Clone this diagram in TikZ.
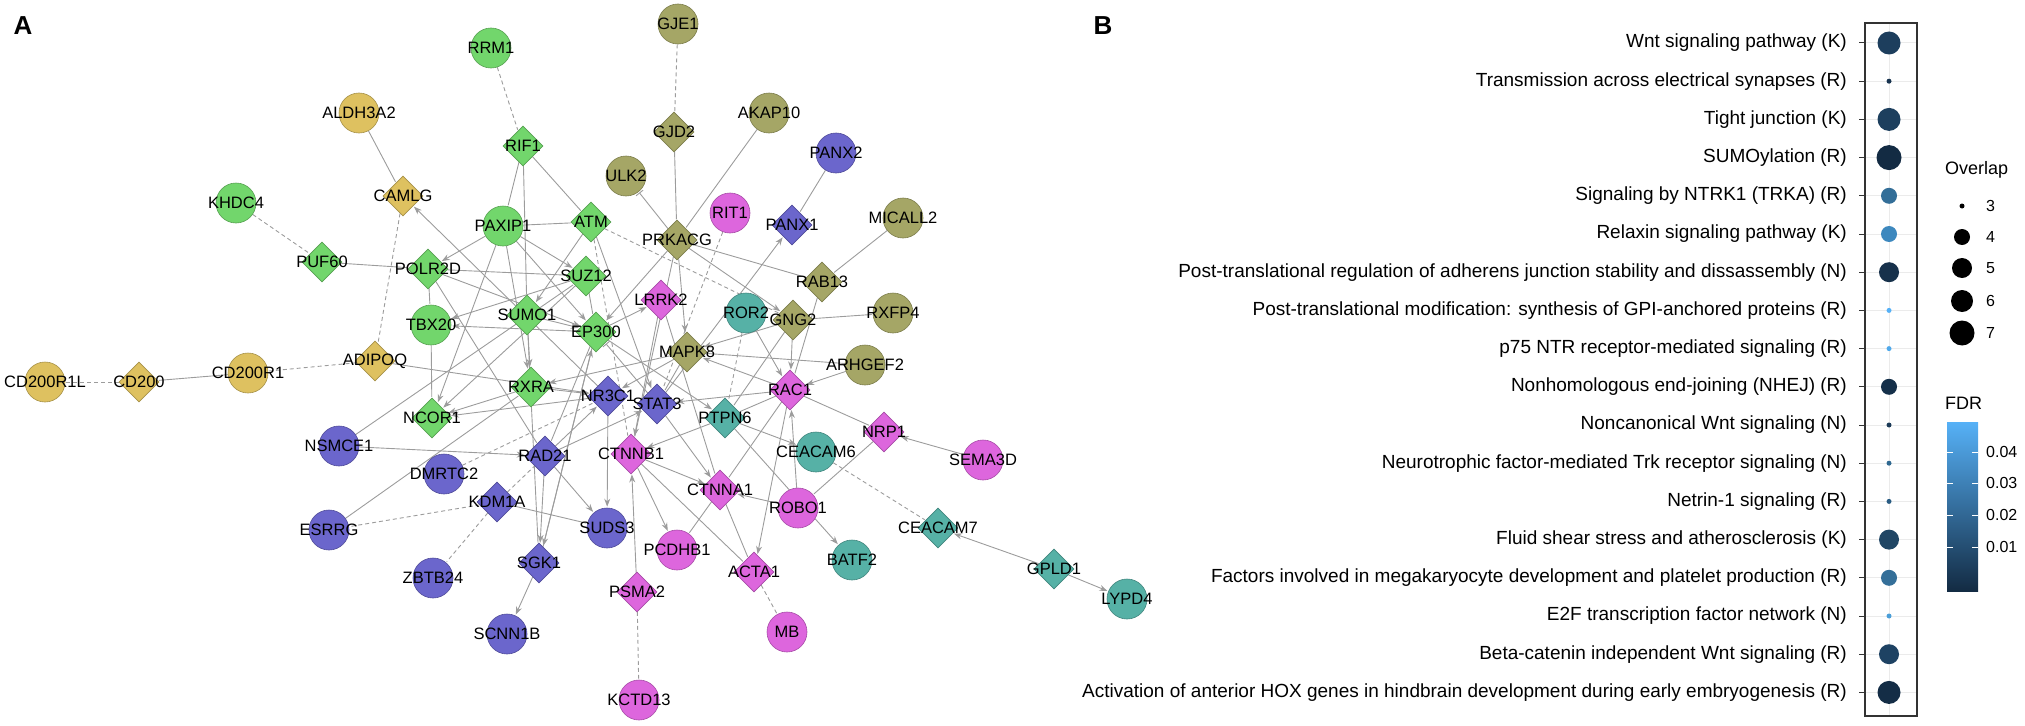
\documentclass[tikz,border=0pt]{standalone}
\usepackage{fontspec}
\setmainfont{Liberation Sans}
\usetikzlibrary{shapes.geometric,arrows.meta,backgrounds}
\definecolor{cg}{HTML}{72D66C}\definecolor{cy}{HTML}{DEC160}\definecolor{co}{HTML}{A5A666}
\definecolor{cp}{HTML}{6B66CC}\definecolor{cm}{HTML}{DD66DD}\definecolor{ct}{HTML}{56B1A6}
\definecolor{eg}{HTML}{9C9C9C}
\tikzset{
 base/.style={draw=#1!75!black, fill=#1, line width=0.6pt, inner sep=0pt},
 C/.style={base=#1, circle, minimum size=40pt},
 D/.style={base=#1, diamond, minimum width=40pt, minimum height=40pt},
 lbl/.style={font=\fontsize{16.5}{17}\selectfont, inner sep=0pt},
 e/.style={draw=eg, line width=0.9pt, shorten >=1pt},
 a/.style={e, -{Stealth[length=8pt,width=6pt]}},
 d/.style={e, dash pattern=on 4pt off 3pt},
 t/.style={e, -{Bar[width=9pt]}},
 rowtxt/.style={font=\fontsize{19}{20}\selectfont, anchor=east, inner sep=0pt},
 ttl/.style={font=\fontsize{26}{28}\selectfont\bfseries, inner sep=0pt}
}
\newcommand{\nd}[4]{\node[#1,label={[lbl]center:#2}] (#2) at (#3,#4) {};}
\begin{document}
\begin{tikzpicture}[x=1pt,y=-1pt]
\useasboundingbox (0,0) rectangle (2025,725);
\node[ttl] at (23,26) {A};
\node[ttl] at (1103,26) {B};
% nodes
\nd{C=cy}{ALDH3A2}{359}{113}
\nd{D=cy}{CAMLG}{403}{196}
\nd{D=cy}{ADIPOQ}{375}{361}
\nd{C=cy}{CD200R1}{248}{373}
\nd{D=cy}{CD200}{139}{382}
\nd{C=cy}{CD200R1L}{45}{382}
\nd{C=cg}{RRM1}{491}{48}
\nd{D=cg}{RIF1}{523}{146}
\nd{C=cg}{KHDC4}{236}{203}
\nd{C=cg}{PAXIP1}{503}{226}
\nd{D=cg}{ATM}{591}{222}
\nd{D=cg}{PUF60}{322}{262}
\nd{D=cg}{POLR2D}{428}{269}
\nd{D=cg}{SUZ12}{586}{276}
\nd{D=cg}{SUMO1}{527}{315}
\nd{C=cg}{TBX20}{431}{325}
\nd{D=cg}{EP300}{596}{332}
\nd{D=cg}{RXRA}{531}{387}
\nd{D=cg}{NCOR1}{432}{418}
\nd{C=co}{GJE1}{678}{24}
\nd{C=co}{AKAP10}{769}{113}
\nd{D=co}{GJD2}{674}{132}
\nd{C=co}{ULK2}{626}{176}
\nd{D=co}{PRKACG}{677}{240}
\nd{C=co}{MICALL2}{903}{218}
\nd{D=co}{RAB13}{822}{282}
\nd{D=co}{GNG2}{793}{320}
\nd{C=co}{RXFP4}{893}{313}
\nd{D=co}{MAPK8}{687}{352}
\nd{C=co}{ARHGEF2}{865}{365}
\nd{C=cp}{PANX2}{836}{153}
\nd{D=cp}{PANX1}{792}{225}
\nd{D=cp}{NR3C1}{608}{396}
\nd{D=cp}{STAT3}{657}{404}
\nd{C=cp}{NSMCE1}{339}{446}
\nd{D=cp}{RAD21}{545}{456}
\nd{C=cp}{DMRTC2}{444}{474}
\nd{D=cp}{KDM1A}{497}{502}
\nd{C=cp}{ESRRG}{329}{530}
\nd{C=cp}{SUDS3}{607}{528}
\nd{D=cp}{SGK1}{539}{563}
\nd{C=cp}{ZBTB24}{433}{578}
\nd{C=cp}{SCNN1B}{507}{634}
\nd{C=cm}{RIT1}{730}{213}
\nd{D=cm}{LRRK2}{661}{300}
\nd{D=cm}{RAC1}{790}{390}
\nd{D=cm}{NRP1}{884}{432}
\nd{C=cm}{SEMA3D}{983}{460}
\nd{D=cm}{CTNNB1}{631}{454}
\nd{D=cm}{CTNNA1}{720}{490}
\nd{C=cm}{ROBO1}{798}{508}
\nd{C=cm}{PCDHB1}{677}{550}
\nd{D=cm}{ACTA1}{754}{572}
\nd{D=cm}{PSMA2}{637}{592}
\nd{C=cm}{MB}{787}{632}
\nd{C=cm}{KCTD13}{639}{700}
\nd{C=ct}{ROR2}{746}{313}
\nd{D=ct}{PTPN6}{725}{418}
\nd{C=ct}{CEACAM6}{816}{452}
\nd{C=ct}{BATF2}{852}{560}
\nd{D=ct}{CEACAM7}{938}{528}
\nd{D=ct}{GPLD1}{1054}{569}
\nd{C=ct}{LYPD4}{1127}{599}
% edges
\begin{scope}[on background layer]
\draw[e] (ALDH3A2)--(CAMLG);
\draw[d] (CAMLG)--(ADIPOQ);
\draw[d] (ADIPOQ)--(CD200R1);
\draw[e] (CD200R1)--(CD200);
\draw[d] (CD200)--(CD200R1L);
\draw[d] (KHDC4)--(PUF60);
\draw[e] (PUF60)--(POLR2D);
\draw[e] (POLR2D)--(SUZ12);
\draw[d] (RRM1)--(RIF1);
\draw[e] (RIF1)--(PAXIP1);
\draw[e] (RIF1)--(SUMO1);
\draw[e] (RIF1)--(ATM);
\draw[d] (GJE1)--(GJD2);
\draw[e] (GJD2)--(PRKACG);
\draw[e] (AKAP10)--(PRKACG);
\draw[t] (PRKACG)--(ULK2);
\draw[d] (RIT1)--(STAT3);
\draw[e] (PANX2)--(PANX1);
\draw[a] (STAT3)--(PANX1);
\draw[e] (MICALL2)--(RAB13);
\draw[e] (PRKACG)--(RAB13);
\draw[e] (RAB13)--(RAC1);
\draw[a] (PRKACG)--(GNG2);
\draw[a] (PRKACG)--(MAPK8);
\draw[a] (PRKACG)--(EP300);
\draw[e] (PRKACG)--(CTNNB1);
\draw[d] (ATM)--(GNG2);
\draw[d] (ATM)--(CTNNB1);
\draw[a] (ATM)--(STAT3);
\draw[e] (GNG2)--(RXFP4);
\draw[a] (GNG2)--(MAPK8);
\draw[a] (GNG2)--(RAC1);
\draw[e] (GNG2)--(PTPN6);
\draw[a] (ROR2)--(RAC1);
\draw[d] (ROR2)--(PTPN6);
\draw[a] (ARHGEF2)--(RAC1);
\draw[e] (ARHGEF2)--(MAPK8);
\draw[a] (RAC1)--(MAPK8);
\draw[a] (RAC1)--(STAT3);
\draw[e] (RAC1)--(PTPN6);
\draw[e] (RAC1)--(NRP1);
\draw[a] (SEMA3D)--(NRP1);
\draw[e] (NRP1)--(ROBO1);
\draw[a] (ROBO1)--(RAC1);
\draw[a] (ROBO1)--(CTNNA1);
\draw[a] (RAC1)--(ACTA1);
\draw[e] (RAC1)--(CTNNA1);
\draw[a] (PTPN6)--(CTNNB1);
\draw[a] (PTPN6)--(CEACAM6);
\draw[a] (PTPN6)--(BATF2);
\draw[d] (CEACAM6)--(CEACAM7);
\draw[a] (GPLD1)--(CEACAM7);
\draw[a] (GPLD1)--(LYPD4);
\draw[a] (CTNNB1)--(CTNNA1);
\draw[a] (CTNNB1)--(PCDHB1);
\draw[e] (CTNNB1)--(ACTA1);
\draw[e] (CTNNA1)--(PCDHB1);
\draw[e] (CTNNA1)--(ACTA1);
\draw[d] (ACTA1)--(MB);
\draw[a] (PSMA2)--(CTNNB1);
\draw[d] (PSMA2)--(KCTD13);
\draw[a] (STAT3)--(CTNNA1);
\draw[a] (NR3C1)--(SUDS3);
\draw[a] (RAD21)--(SUDS3);
\draw[e] (KDM1A)--(SUDS3);
\draw[d] (KDM1A)--(ESRRG);
\draw[d] (KDM1A)--(ZBTB24);
\draw[d] (KDM1A)--(RAD21);
\draw[a] (RAD21)--(SGK1);
\draw[a] (SGK1)--(SCNN1B);
\draw[a] (EP300)--(SGK1);
\draw[d] (DMRTC2)--(NR3C1);
\draw[a] (NSMCE1)--(RAD21);
\draw[e] (NSMCE1)--(SUZ12);
\draw[e] (ESRRG)--(RXRA);
\draw[a] (RAD21)--(STAT3);
\draw[a] (RAD21)--(NR3C1);
\draw[e] (PAXIP1)--(ATM);
\draw[a] (PAXIP1)--(POLR2D);
\draw[a] (PAXIP1)--(SUZ12);
\draw[a] (PAXIP1)--(RXRA);
\draw[a] (PAXIP1)--(NCOR1);
\draw[a] (PAXIP1)--(EP300);
\draw[a] (ATM)--(SUMO1);
\draw[a] (SUZ12)--(TBX20);
\draw[a] (SUZ12)--(NCOR1);
\draw[e] (SUZ12)--(EP300);
\draw[a] (EP300)--(TBX20);
\draw[a] (SUMO1)--(RXRA);
\draw[a] (SUMO1)--(EP300);
\draw[e] (POLR2D)--(TBX20);
\draw[e] (TBX20)--(NCOR1);
\draw[a] (POLR2D)--(EP300);
\draw[e] (POLR2D)--(RAD21);
\draw[a] (NR3C1)--(CAMLG);
\draw[a] (ADIPOQ)--(NR3C1);
\draw[a] (EP300)--(LRRK2);
\draw[t] (STAT3)--(EP300);
\draw[a] (EP300)--(PTPN6);
\draw[e] (EP300)--(RAD21);
\draw[a] (MAPK8)--(RXRA);
\draw[a] (MAPK8)--(NR3C1);
\draw[e] (MAPK8)--(STAT3);
\draw[a] (RXRA)--(NCOR1);
\draw[a] (NR3C1)--(NCOR1);
\draw[a] (RXRA)--(NR3C1);
\draw[a] (LRRK2)--(CTNNB1);
\draw[e] (LRRK2)--(CTNNA1);
\draw[a] (SGK1)--(EP300);
\draw[e] (SUMO1)--(SGK1);
\end{scope}
% panel B
\foreach \i in {0,...,17}{
  \draw[color={rgb,255:red,235;green,235;blue,235}, line width=1pt] (1865,{43+38.2*\i}) -- (1917,{43+38.2*\i});
  \draw[color={rgb,255:red,51;green,51;blue,51}, line width=1pt] (1859,{43+38.2*\i}) -- (1865,{43+38.2*\i});
}
\draw[color={rgb,255:red,235;green,235;blue,235}, line width=1pt] (1889,23) -- (1889,716);
\newcommand{\prow}[4]{%
  \definecolor{tmpc}{HTML}{#4}%
  \node[rowtxt] at (1847,{43+38.2*#1}) {#2};
  \fill[tmpc] (1889,{43+38.2*#1}) circle (#3);}
\prow{0}{Wnt signaling pathway (K)}{11.5}{1D3E5D}
\prow{1}{Transmission across electrical synapses (R)}{2.5}{17334F}
\prow{2}{Tight junction (K)}{11.5}{1D3F5E}
\prow{3}{SUMOylation (R)}{12.5}{132B43}
\prow{4}{Signaling by NTRK1 (TRKA) (R)}{8}{336E98}
\prow{5}{Relaxin signaling pathway (K)}{8}{3D88BE}
\prow{6}{Post-translational regulation of adherens junction stability and dissassembly (N)}{10}{17314B}
\prow{7}{Post-translational modification: synthesis of GPI-anchored proteins (R)}{2.5}{56B1F7}
\prow{8}{p75 NTR receptor-mediated signaling (R)}{2.5}{4FA9EB}
\prow{9}{Nonhomologous end-joining (NHEJ) (R)}{8}{15304A}
\prow{10}{Noncanonical Wnt signaling (N)}{2.5}{1B3A57}
\prow{11}{Neurotrophic factor-mediated Trk receptor signaling (N)}{2.5}{2F6890}
\prow{12}{Netrin-1 signaling (R)}{2.5}{295C83}
\prow{13}{Fluid shear stress and atherosclerosis (K)}{10}{204665}
\prow{14}{Factors involved in megakaryocyte development and platelet production (R)}{8}{346F99}
\prow{15}{E2F transcription factor network (N)}{2.5}{4A9ED8}
\prow{16}{Beta-catenin independent Wnt signaling (R)}{10}{1E4263}
\prow{17}{Activation of anterior HOX genes in hindbrain development during early embryogenesis (R)}{11.5}{142D46}
\draw[color={rgb,255:red,51;green,51;blue,51}, line width=1.2pt] (1865,23) rectangle (1917,716);
% legend
\node[font=\fontsize{18}{20}\selectfont, anchor=west, inner sep=0pt] at (1945,170) {Overlap};
\foreach \y/\r/\l in {206/2.5/3, 237/8/4, 268/10/5, 301/11/6, 333/12.5/7}{
  \fill[black] (1962,\y) circle (\r);
  \node[font=\fontsize{16}{18}\selectfont, anchor=west, inner sep=0pt] at (1986,\y) {\l};
}
\node[font=\fontsize{18}{20}\selectfont, anchor=west, inner sep=0pt] at (1945,403) {FDR};
\shade[bottom color={rgb,255:red,19;green,43;blue,67}, top color={rgb,255:red,86;green,177;blue,247}] (1947,422) rectangle (1978,591);
\foreach \y/\l in {452/0.04, 483/0.03, 515/0.02, 547/0.01}{
  \draw[white, line width=0.8pt] (1947,\y) -- (1953,\y) (1972,\y) -- (1978,\y);
  \node[font=\fontsize{16}{18}\selectfont, anchor=west, inner sep=0pt] at (1986,\y) {\l};
}
\end{tikzpicture}
\end{document}
